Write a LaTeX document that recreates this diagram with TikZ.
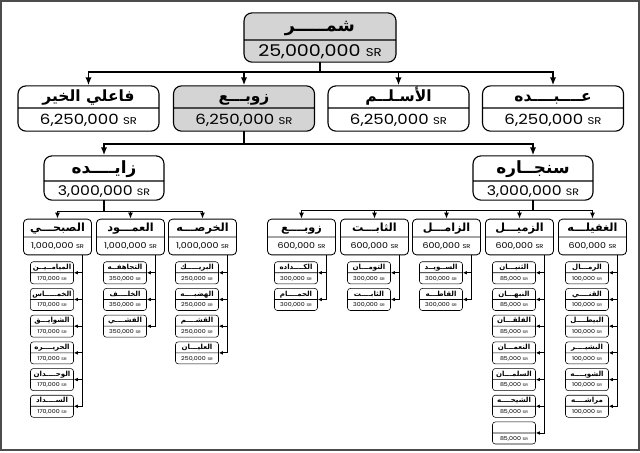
\documentclass[tikz,border=0pt]{standalone}
\usepackage{fontspec}
\usepackage{tikz}
\usetikzlibrary{shapes.multipart, arrows.meta, calc}
\TeXXeTstate=1
\newfontfamily\arabicfont[Script=Arabic]{DejaVu Sans}
\newfontfamily\numfont{Poppins}[FakeStretch=1.18]
\definecolor{boxgray}{RGB}{212,212,212}
\newcommand\arname[1]{{\arabicfont\bfseries\namesize\rule[-\named]{0pt}{\dimexpr\nameh+\named\relax}\beginR #1\endR}}
\newcommand\amt[1]{\rule[-\vald]{0pt}{\dimexpr\valh+\vald\relax}#1 \scalebox{0.7}{SR}}
% small boxes hanging from a branch: parent, value, names
\newcommand\leaves[3]{%
  \coordinate (#1-bus) at ($(#1.south)+(25,0)$);
  \foreach \nm [count=\k] in {#3}{%
    \node[leaf] (#1-\k) at ($(#1.south)+(-5.5,{17.5+26.7*(\k-1)})$)
      {\arname{\nm}\nodepart{two}\amt{#2}};
    \draw[leafline] (#1-bus) -- (#1-bus |- #1-\k.east);
    \draw[leafarr] (#1-bus |- #1-\k.east) -- (#1-\k.east);
  }}

\begin{document}
\begin{tikzpicture}[x=0.25mm, y=-0.25mm,
    parts/.style n args={5}{/utils/exec={\def\namesize{\fontsize{#1}{#1}\selectfont}\def\nameh{#2}\def\named{#3}\def\valh{#4}\def\vald{#5}}},
    box/.style={rectangle split, rectangle split parts=2, draw, inner xsep=0.5mm, inner ysep=0pt, align=center},
    famtop/.style={box, rounded corners=2mm, line width=0.8pt, minimum width=38mm, fill=boxgray,
        parts={12.5}{4.57mm}{1.93mm}{4.04mm}{1.21mm}, font=\numfont\fontsize{11.5}{12}\selectfont},
    fam/.style={box, rounded corners=2mm, line width=0.8pt, minimum width=35.25mm, fill=white,
        parts={11}{3.79mm}{1.46mm}{3.98mm}{1.52mm}, font=\numfont\fontsize{10}{11}\selectfont},
    clan/.style={box, rounded corners=2mm, line width=0.8pt, minimum width=30mm,
        parts={12}{4.27mm}{1.73mm}{3.48mm}{1.02mm}, font=\numfont\fontsize{9.5}{10}\selectfont},
    branch/.style={box, rounded corners=1mm, line width=0.6pt, minimum width=17mm,
        parts={8}{2.97mm}{1.28mm}{2.87mm}{1.38mm}, font=\numfont\fontsize{5.7}{6}\selectfont},
    leaf/.style={box, rounded corners=0.7mm, line width=0.4pt, minimum width=10.75mm,
        parts={5}{1.84mm}{0.78mm}{1.78mm}{0.84mm}, font=\numfont\fontsize{3.8}{4}\selectfont},
    bus/.style={line width=1.4pt, line cap=rect},
    arr/.style={line width=1.4pt, -{Latex[length=2mm, width=1.6mm]}},
    midline/.style={line width=1pt, line cap=rect},
    midarr/.style={line width=1pt, -{Latex[length=1.5mm, width=1.2mm]}},
    leafline/.style={line width=0.6pt},
    leafarr/.style={line width=0.6pt, -{Latex[length=1mm, width=0.9mm]}}
]
    \useasboundingbox (0,0) rectangle (640,452);
    \draw[gray!60!black, line width=0.45mm] (1,1) rectangle (639,450);

    % root and first level
    \node[famtop] (shammar) at (320,37.5) {\arname{شمـــــر}\nodepart{two}\amt{25,000,000}};
    \node[fam] (fakhir) at (88.5,108.5) {\arname{فاعلي الخير}\nodepart{two}\amt{6,250,000}};
    \node[fam, fill=boxgray] (zawba) at (244,108.5) {\arname{زوبـــع}\nodepart{two}\amt{6,250,000}};
    \node[fam] (aslam) at (398.5,108.5) {\arname{الأسـلــم}\nodepart{two}\amt{6,250,000}};
    \node[fam] (abdah) at (553,108.5) {\arname{عــــبــــده}\nodepart{two}\amt{6,250,000}};

    % zawba's two clans
    \node[clan] (zayida) at (104,178) {\arname{زايــــده}\nodepart{two}\amt{3,000,000}};
    \node[clan] (sinjara) at (533,178) {\arname{سنجــاره}\nodepart{two}\amt{3,000,000}};

    % branches
    \node[branch] (subhi) at (57.5,237) {\arname{الصبحـــي}\nodepart{two}\amt{1,000,000}};
    \node[branch] (amud) at (130.5,237) {\arname{العمـــود}\nodepart{two}\amt{1,000,000}};
    \node[branch] (kharsa) at (202.5,237) {\arname{الخرصـــه}\nodepart{two}\amt{1,000,000}};
    \node[branch] (zawbab) at (301.5,237) {\arname{زوبــــع}\nodepart{two}\amt{600,000}};
    \node[branch] (thabit) at (374.5,237) {\arname{الثابـــت}\nodepart{two}\amt{600,000}};
    \node[branch] (zamil) at (446.5,237) {\arname{الزامـــل}\nodepart{two}\amt{600,000}};
    \node[branch] (zumail) at (519.5,237) {\arname{الزميـــل}\nodepart{two}\amt{600,000}};
    \node[branch] (ghufaila) at (592.5,237) {\arname{الغفيلـــه}\nodepart{two}\amt{600,000}};

    % connectors
    \draw[bus] (shammar.south) -- ++(0,9.7) coordinate (shammar-bus);
    \draw[bus] (shammar-bus -| fakhir.north) -- (shammar-bus -| abdah.north);
    \foreach \c in {fakhir,zawba,aslam,abdah}
        \draw[arr] (shammar-bus -| \c.north) -- (\c.north);

    \draw[bus] (zawba.south) -- ++(0,12) coordinate (zawba-bus);
    \draw[bus] (zawba-bus -| zayida.north) -- (zawba-bus -| sinjara.north);
    \foreach \c in {zayida,sinjara}
        \draw[arr] (zawba-bus -| \c.north) -- (\c.north);

    \draw[midline] (zayida.south) -- ++(0,11) coordinate (zayida-bus);
    \draw[midline] (zayida-bus -| subhi.north) -- (zayida-bus -| kharsa.north);
    \foreach \c in {subhi,amud,kharsa}
        \draw[midarr] (zayida-bus -| \c.north) -- (\c.north);

    \draw[midline] (sinjara.south) -- ++(0,10) coordinate (sinjara-bus);
    \draw[midline] (sinjara-bus -| zawbab.north) -- (sinjara-bus -| ghufaila.north);
    \foreach \c in {zawbab,thabit,zamil,zumail,ghufaila}
        \draw[midarr] (sinjara-bus -| \c.north) -- (\c.north);

    % families under each branch
    \leaves{subhi}{170,000}{الميامــيــن,الخمـــــاس,الشوايـــق,الحريــــره,الوحــــدان,الســــداد}
    \leaves{amud}{350,000}{التجاهفــه,الخلــــف,الفشــــي}
    \leaves{kharsa}{250,000}{البريـــــك,الهضبــــه,القشــــم,العليـــان}
    \leaves{zawbab}{300,000}{الكــــداده,الحمــــام}
    \leaves{thabit}{300,000}{التومـــان,الثابــــت}
    \leaves{zamil}{300,000}{الســويــد,القاطـــه}
    \leaves{zumail}{85,000}{الثنيـــان,النبهـــان,الفلقـــان,النعمـــان,السلمـــان,الشيحــــه,{}}
    \leaves{ghufaila}{100,000}{الرمـــال,القنــــي,البيطــــل,البشيــــر,الشويــــه,مراشــــه}
\end{tikzpicture}
\end{document}
